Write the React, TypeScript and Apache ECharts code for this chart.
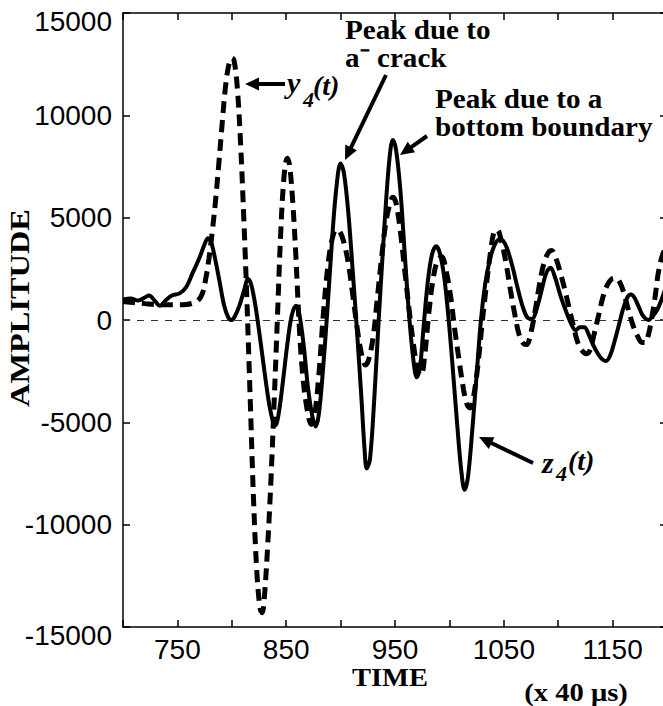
import React, { useEffect, useRef } from "react";
import * as echarts from "echarts";

// z4(t) : solid curve
const zTime = [700, 707, 714, 720, 724, 729, 734, 740, 745, 752, 758, 764, 770, 775, 778, 781, 785, 789, 793, 797, 800, 803, 807, 811, 815, 818, 822, 826, 830, 834, 838, 840, 843, 847, 851, 855, 859, 862, 866, 870, 874, 877, 880, 884, 888, 892, 896, 900, 903, 907, 911, 915, 919, 922, 924, 927, 931, 935, 939, 943, 946, 948, 951, 955, 959, 963, 967, 970, 973, 976, 980, 984, 988, 991, 995, 999, 1003, 1007, 1011, 1014, 1017, 1021, 1025, 1029, 1033, 1037, 1041, 1046, 1049, 1053, 1058, 1063, 1068, 1072, 1076, 1080, 1085, 1089, 1093, 1097, 1102, 1107, 1112, 1116, 1120, 1124, 1128, 1132, 1136, 1140, 1144, 1148, 1152, 1156, 1160, 1164, 1167, 1170, 1174, 1178, 1183, 1187, 1191, 1195, 1200];
const zAmp = [1000, 1050, 950, 1100, 1200, 950, 700, 1000, 1200, 1300, 1600, 2300, 3000, 3700, 4000, 3800, 2900, 1800, 700, 100, 0, 200, 700, 1400, 2000, 1700, 600, -900, -2500, -4000, -5000, -5150, -4600, -3000, -1200, 200, 700, 300, -1200, -3300, -4700, -5200, -4600, -2300, 600, 3800, 6400, 7650, 7200, 5300, 2500, -500, -3700, -6300, -7250, -6800, -3800, 0, 3500, 6700, 8400, 8800, 8300, 6300, 3200, 200, -2000, -2800, -2300, -500, 1800, 3200, 3600, 3300, 2200, 200, -2300, -5000, -7400, -8300, -7700, -5400, -2700, 0, 1800, 2900, 3600, 3950, 3900, 3500, 2600, 1500, 550, 100, 50, 500, 1500, 2300, 2550, 2100, 1200, 450, -200, -500, -350, -350, -700, -1200, -1600, -1900, -2000, -1700, -1000, -200, 600, 1150, 1250, 1100, 650, 200, 0, 200, 500, 1000, 1800];

// y4(t) : dashed curve
const yTime = [700, 710, 720, 730, 740, 750, 758, 764, 769, 773, 776, 779, 782, 785, 788, 791, 794, 797, 800, 802, 805, 808, 811, 814, 817, 820, 823, 826, 828, 830, 833, 836, 839, 842, 845, 848, 851, 853, 856, 859, 862, 865, 869, 873, 876, 880, 884, 888, 892, 896, 899, 903, 907, 911, 915, 919, 923, 926, 930, 934, 938, 942, 946, 948, 951, 955, 959, 963, 967, 971, 974, 977, 981, 985, 989, 993, 997, 1001, 1005, 1009, 1013, 1016, 1019, 1022, 1026, 1030, 1034, 1038, 1041, 1044, 1048, 1052, 1056, 1060, 1064, 1068, 1071, 1075, 1079, 1083, 1087, 1091, 1094, 1098, 1102, 1106, 1110, 1114, 1118, 1122, 1126, 1129, 1133, 1137, 1141, 1145, 1149, 1153, 1157, 1161, 1165, 1169, 1173, 1177, 1180, 1183, 1186, 1189, 1192, 1196, 1200];
const yAmp = [900, 850, 800, 750, 750, 750, 760, 820, 950, 1300, 2000, 3000, 4300, 5800, 7600, 9500, 11300, 12400, 12800, 12700, 11400, 8700, 5000, 800, -4000, -8800, -12300, -14100, -14300, -13500, -11000, -7800, -3900, 200, 4300, 7000, 7900, 7600, 5800, 3000, -300, -2600, -4300, -5100, -4700, -2700, 200, 2500, 3900, 4400, 4350, 3800, 2800, 1300, -300, -1600, -2200, -1900, -800, 1200, 3200, 4900, 5800, 6000, 5700, 4300, 2400, 500, -1200, -2500, -2700, -1900, 300, 2000, 2900, 3100, 2400, 1200, -500, -2000, -3400, -4100, -4300, -3800, -2300, -200, 1700, 3400, 4300, 4400, 3800, 2800, 1500, 300, -700, -1150, -1200, -600, 500, 1800, 2800, 3300, 3400, 3000, 2300, 1500, 600, -300, -1100, -1500, -1650, -1500, -700, 200, 1100, 1700, 2000, 2050, 1800, 1200, 400, -300, -800, -1100, -1100, -700, 100, 1100, 2300, 3200, 3600];

const xLabelValues = [750, 850, 950, 1050, 1150];
const yEndLabels = [15000, -15000];

const SERIF = '"Liberation Serif", "Times New Roman", serif';
const SANS = '"Liberation Sans", Arial, Helvetica, sans-serif';

function arrow(x1: number, y1: number, x2: number, y2: number, L = 14, W = 6.5) {
  const dx = x2 - x1;
  const dy = y2 - y1;
  const len = Math.hypot(dx, dy);
  const ux = dx / len;
  const uy = dy / len;
  const bx = x2 - ux * L;
  const by = y2 - uy * L;
  const nx = -uy;
  const ny = ux;
  return [
    { type: "line", shape: { x1, y1, x2: bx + ux * 2, y2: by + uy * 2 }, style: { stroke: "#000", lineWidth: 4 } },
    {
      type: "polygon",
      shape: { points: [[x2, y2], [bx + nx * W, by + ny * W], [bx - nx * W, by - ny * W]] },
      style: { fill: "#000" },
    },
  ];
}

function txt(
  text: string,
  x: number,
  y: number,
  size: number,
  o: { bold?: boolean; italic?: boolean; align?: string; sx?: number; rot?: number; family?: string } = {}
) {
  return {
    type: "text",
    x,
    y,
    scaleX: o.sx ?? 1,
    rotation: o.rot ?? 0,
    style: {
      text,
      x: 0,
      y: 0,
      fill: "#000",
      fontSize: size,
      fontFamily: o.family ?? SERIF,
      fontWeight: o.bold ? "bold" : "normal",
      fontStyle: o.italic ? "italic" : "normal",
      align: o.align ?? "left",
      verticalAlign: "middle",
    },
  };
}

export default function App() {
  const ref = useRef<HTMLDivElement>(null);
  useEffect(() => {
    if (!ref.current) return;
    const chart = echarts.init(ref.current, undefined, { renderer: "svg" });
    const axisLineStyle = { color: "#000", width: 1.5 };
    const hiddenAxisCommon = {
      type: "value",
      axisLine: { show: true, onZero: false, lineStyle: axisLineStyle },
      axisTick: { show: true, inside: true, length: 7, lineStyle: axisLineStyle },
      axisLabel: { show: false },
      splitLine: { show: false },
    };
    chart.setOption({
      animation: false,
      backgroundColor: "#fff",
      grid: { left: 123, top: 13, width: 544, height: 614 },
      xAxis: [
        {
          type: "value",
          min: 700,
          max: 1200,
          interval: 50,
          position: "bottom",
          axisLine: { show: true, onZero: false, lineStyle: axisLineStyle },
          axisTick: { show: true, inside: true, length: 7, lineStyle: axisLineStyle },
          axisLabel: {
            show: true,
            margin: 8,
            fontSize: 28,
            fontFamily: SANS,
            color: "#000",
            formatter: (v: number) => (xLabelValues.includes(v) ? String(v) : ""),
          },
          splitLine: { show: false },
        },
        { ...hiddenAxisCommon, min: 700, max: 1200, interval: 50, position: "top" },
      ],
      yAxis: [
        {
          type: "value",
          min: -15000,
          max: 15000,
          interval: 5000,
          position: "left",
          axisLine: { show: true, onZero: false, lineStyle: axisLineStyle },
          axisTick: { show: true, inside: true, length: 7, lineStyle: axisLineStyle },
          axisLabel: {
            show: true,
            margin: 11,
            fontSize: 28,
            fontFamily: SANS,
            color: "#000",
            formatter: (v: number) => (yEndLabels.includes(v) ? `{e|${v}}` : String(v)),
            rich: {
              e: { fontSize: 28, fontFamily: SANS, color: "#000", padding: [17, 0, 0, 0] },
            },
          },
          splitLine: { show: false },
        },
        { ...hiddenAxisCommon, min: -15000, max: 15000, interval: 5000, position: "right" },
      ],
      series: [
        {
          name: "y4(t)",
          type: "line",
          xAxisIndex: 0,
          yAxisIndex: 0,
          data: yTime.map((t, i) => [t, yAmp[i]]),
          symbol: "none",
          smooth: 0.35,
          lineStyle: { color: "#000", width: 5, type: [12, 7] },
          z: 3,
        },
        {
          name: "z4(t)",
          type: "line",
          xAxisIndex: 0,
          yAxisIndex: 0,
          data: zTime.map((t, i) => [t, zAmp[i]]),
          symbol: "none",
          smooth: 0.35,
          lineStyle: { color: "#000", width: 4 },
          z: 4,
          markLine: {
            silent: true,
            symbol: "none",
            label: { show: false },
            lineStyle: { color: "#333", width: 1, type: [7, 7] },
            data: [{ yAxis: 0 }],
            z: 1,
          },
        },
      ],
      graphic: [
        txt("Peak due to", 345, 29.5, 28, { bold: true, sx: 1.04 }),
        txt("a\u207B crack", 345, 57.5, 28, { bold: true, sx: 1.04 }),
        txt("Peak due to a", 435, 99, 28, { bold: true, sx: 1.04 }),
        txt("bottom boundary", 435, 127, 28, { bold: true, sx: 1.04 }),
        txt("TIME", 390, 678, 25, { bold: true, align: "center", sx: 1.14 }),
        txt("(x 40 \u03BCs)", 576, 692, 26, { bold: true, align: "center", sx: 1.1 }),
        txt("AMPLITUDE", 19, 308, 27, { bold: true, align: "center", sx: 1.2, rot: Math.PI / 2 }),
        txt("y", 287, 82, 30, { bold: true, italic: true }),
        txt("4", 303, 99, 22, { bold: true, italic: true }),
        txt("(t)", 313, 85, 28, { bold: true, italic: true }),
        txt("z", 542, 462, 30, { bold: true, italic: true }),
        txt("4", 556, 473, 22, { bold: true, italic: true }),
        txt("(t)", 568, 460, 28, { bold: true, italic: true }),
        ...arrow(386, 75, 345, 160),
        ...arrow(427, 136, 400, 155),
        ...arrow(285, 84, 245, 84),
        ...arrow(533, 463, 479, 437),
      ],
    });
    return () => chart.dispose();
  }, []);
  return (
    <div style={{ position: "fixed", left: 0, top: 0, width: 663, height: 706, overflow: "hidden", background: "#fff" }}>
      <div ref={ref} style={{ width: 700, height: 706 }} />
    </div>
  );
}
